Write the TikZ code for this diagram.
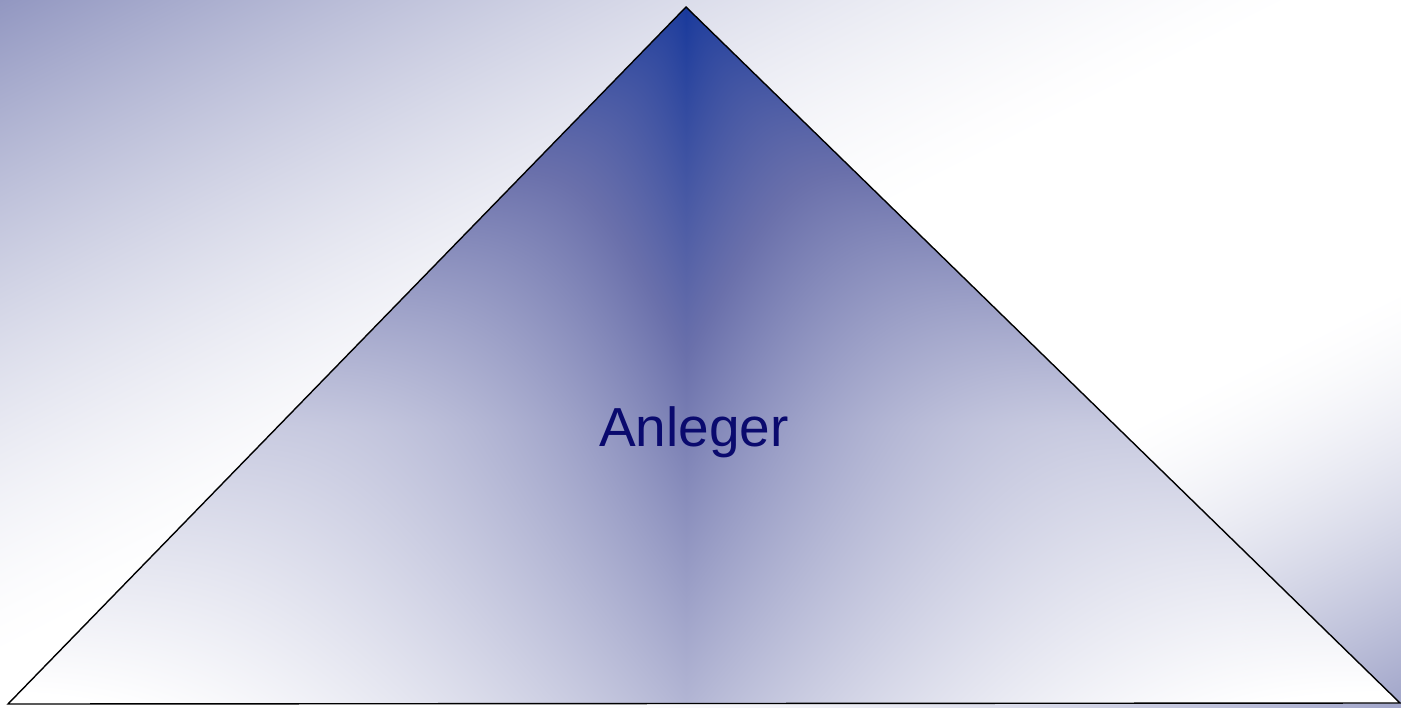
\documentclass[tikz,border=0pt]{standalone}
\usepackage{fontspec}
\setmainfont{Liberation Sans}
\definecolor{labelnavy}{RGB}{10,10,110}
\pgfdeclarefunctionalshading{bgshade}{\pgfpoint{0bp}{0bp}}{\pgfpoint{1401bp}{707bp}}{}{
  exch 1401 div exch 707 exch sub 707 div add 2 div
  dup 0.47 div 1 exch sub dup 0 lt {pop 0} if 1.5 exp
  exch 1 exch sub 0.3 div 1 exch sub dup 0 lt {pop 0} if 1.5 exp 0.87 mul
  add
  dup 109 mul 255 exch sub 255 div
  exch dup 104 mul 255 exch sub 255 div
  exch 62 mul 255 exch sub 255 div
}
\pgfdeclarefunctionalshading{trishade}{\pgfpoint{0bp}{0bp}}{\pgfpoint{1401bp}{707bp}}{}{
  700 exch sub
  dup 1 lt {pop 1} if
  dup 698 div dup 1 gt {pop 1} if
  dup 0.9 exp 0.67 mul 1 exch sub
  exch 0.6 div dup 1 gt {pop 1} if 0.7 exp 0.34 mul
  3 index 686 sub abs
  3 index div
  dup 1 gt {pop 1} if
  1 exch sub dup mul 1 exch sub
  mul sub
  exch pop exch pop
  dup 0 lt {pop 0} if
  dup 0.64 le {
    0.64 div
    dup 149 mul 255 exch sub 255 div
    exch dup 143 mul 255 exch sub 255 div
    exch 84 mul 255 exch sub 255 div
  }{
    0.64 sub 0.36 div
    dup 83 mul 106 exch sub 255 div
    exch dup 56 mul 112 exch sub 255 div
    exch 16 mul 171 exch sub 255 div
  } ifelse
}
\tikzset{
  shadebox/.style={anchor=south west, inner sep=0pt, outer sep=0pt},
  pyramidline/.style={draw=black, line width=1.4bp, line join=miter},
  pyramidlabel/.style={text=labelnavy, font=\fontsize{55bp}{60bp}\selectfont, inner sep=0pt}
}
\begin{document}
\begin{tikzpicture}[x=1bp, y=-1bp]
\useasboundingbox (0,0) rectangle (1401,707);
\node[shadebox] (bg) at (0,707) {\pgfuseshading{bgshade}};
\coordinate (apex) at (686,7);
\coordinate (bl) at (8,704);
\coordinate (br) at (1400,703);
\begin{scope}
  \clip (apex) -- (bl) -- (br) -- cycle;
  \node[shadebox] (trifill) at (0,707) {\pgfuseshading{trishade}};
\end{scope}
\draw[pyramidline] (apex) -- (bl) -- (br) -- cycle;
\node[pyramidlabel] (anleger) at (694,432) {Anleger};
\end{tikzpicture}
\end{document}
